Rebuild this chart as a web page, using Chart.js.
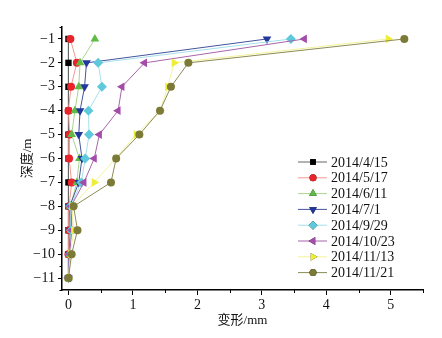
<!DOCTYPE html>
<html>
<head>
<meta charset="utf-8">
<script src="https://cdn.jsdelivr.net/npm/chart.js@4"></script>
<style>
  html, body { margin: 0; padding: 0; background: #fff; }
  #wrap { width: 442px; height: 338px; }
</style>
</head>
<body>
<div id="wrap"><canvas id="c" width="442" height="338"></canvas></div>
<script>
// depth of each reading, m
var depths = [-1, -2, -3, -4, -5, -6, -7, -8, -9, -10, -11];

// deformation (mm) at each depth, one array per survey date
var d0415 = [0, 0, 0, 0, 0, 0, 0, 0, 0, 0, 0];
var d0517 = [0.03, 0.13, 0.04, 0.0, 0.02, 0.01, 0.05, 0.01, 0.01, 0.0, 0.0];
var d0611 = [0.41, 0.18, 0.16, 0.10, 0.05, 0.17, 0.13, 0.03, 0.04, 0.02, 0.0];
var d0701 = [3.08, 0.28, 0.25, 0.18, 0.16, 0.21, 0.16, 0.02, 0.03, 0.01, 0.0];
var d0929 = [3.45, 0.46, 0.52, 0.31, 0.32, 0.26, 0.20, 0.03, 0.04, 0.02, 0.0];
var d1023 = [3.66, 1.18, 0.83, 0.77, 0.48, 0.40, 0.24, 0.04, 0.05, 0.02, 0.0];
var d1113 = [4.96, 1.64, 1.54, 1.42, 1.05, 0.73, 0.40, 0.05, 0.08, 0.03, 0.0];
var d1121 = [5.21, 1.86, 1.59, 1.42, 1.10, 0.74, 0.66, 0.08, 0.14, 0.05, 0.0];

var labels = ['2014/4/15', '2014/5/17', '2014/6/11', '2014/7/1',
              '2014/9/29', '2014/10/23', '2014/11/13', '2014/11/21'];
var series = [d0415, d0517, d0611, d0701, d0929, d1023, d1113, d1121];

// tick labels
var xMajor = [0, 1, 2, 3, 4, 5];
var xMinor = [0.5, 1.5, 2.5, 3.5, 4.5, 5.5];
var yMajor = [-11, -10, -9, -8, -7, -6, -5, -4, -3, -2, -1];
var yMinor = [-11.5, -10.5, -9.5, -8.5, -7.5, -6.5, -5.5, -4.5, -3.5, -2.5, -1.5, -0.5];

var markerColors = ['#000000', '#e8232b', '#5fbb45', '#22389a', '#5ec9da', '#a34ca8', '#eeee3a', '#7b7a36'];
var lineColors = ['#666666', '#f29b8e', '#a9d58f', '#45549c', '#a6e0ea', '#a765ab', '#f3f39a', '#8c8b55'];
var styles = ['rect', 'circle', 'triangle', 'triangle', 'rectRot', 'triangle', 'triangle', 'circle'];
var rotations = [0, 0, 0, 180, 0, -90, 90, 0];
var radii = [4.5, 4, 5, 5, 5, 5, 5, 4];

var serif = "'Liberation Serif', 'Times New Roman', serif";
var cjk = "'Liberation Serif', 'Noto Sans CJK SC', serif";

function minus(v) {
	return v < 0 ? '\u2212' + Math.abs(v) : '' + v;
}

var datasets = series.map(function(vals, i) {
	return {
		label: labels[i],
		data: vals.map(function(v, k) { return {x: v, y: depths[k]}; }),
		showLine: true,
		borderColor: lineColors[i],
		borderWidth: 1,
		backgroundColor: markerColors[i],
		pointBackgroundColor: markerColors[i],
		pointBorderColor: markerColors[i],
		pointBorderWidth: 0,
		pointStyle: styles[i],
		rotation: rotations[i],
		pointRadius: radii[i],
		order: series.length - i
	};
});

// short minor ticks plus a legend drawn inside the plot
var extras = {
	id: 'extras',
	afterDraw: function(chart) {
		var ctx = chart.ctx;
		var xs = chart.scales.x, ys = chart.scales.y;
		ctx.save();
		ctx.strokeStyle = '#000';
		ctx.lineWidth = 1;
		ctx.beginPath();
		xMinor.forEach(function(v) {
			var px = Math.round(xs.getPixelForValue(v)) + 0.5;
			ctx.moveTo(px, ys.bottom);
			ctx.lineTo(px, ys.bottom + 3);
		});
		yMinor.forEach(function(v) {
			var py = Math.round(ys.getPixelForValue(v)) + 0.5;
			ctx.moveTo(xs.left, py);
			ctx.lineTo(xs.left - 2.5, py);
		});
		ctx.stroke();

		ctx.font = '14px ' + serif;
		ctx.textBaseline = 'middle';
		ctx.fillStyle = '#111';
		chart.data.datasets.forEach(function(ds, i) {
			var y = 162 + i * 15.8;
			ctx.strokeStyle = lineColors[i];
			ctx.beginPath();
			ctx.moveTo(298, y);
			ctx.lineTo(327, y);
			ctx.stroke();
			Chart.helpers.drawPoint(ctx, {
				pointStyle: styles[i],
				rotation: rotations[i],
				radius: radii[i] - 0.5,
				borderWidth: 0
			}, 313, y);
			ctx.fillStyle = markerColors[i];
			ctx.fill();
			ctx.fillStyle = '#111';
			ctx.fillText(ds.label, 331, y + 1);
		});
		ctx.restore();
	}
};

new Chart(document.getElementById('c'), {
	type: 'scatter',
	data: { datasets: datasets },
	plugins: [extras],
	options: {
		responsive: false,
		animation: false,
		layout: { padding: { left: 0, right: 19, top: 27, bottom: 0 } },
		plugins: {
			legend: { display: false },
			tooltip: { enabled: false }
		},
		scales: {
			x: {
				type: 'linear',
				min: -0.1,
				max: 5.5,
				afterBuildTicks: function(s) { s.ticks = xMajor.map(function(v) { return {value: v}; }); },
				afterFit: function(s) { s.height = 48; },
				border: { color: '#000', width: 1.5 },
				grid: { drawOnChartArea: false, drawTicks: true, tickLength: 5, tickColor: '#000', tickWidth: 1 },
				ticks: { color: '#111', font: { family: serif, size: 14 }, padding: 2, callback: function(v) { return minus(v); } },
				title: { display: true, text: '变形/mm', color: '#111', font: { family: cjk, size: 13 }, padding: { top: 0, bottom: 10 } }
			},
			y: {
				type: 'linear',
				min: -11.5,
				max: -0.5,
				afterBuildTicks: function(s) { s.ticks = yMajor.map(function(v) { return {value: v}; }); },
				afterFit: function(s) { s.width = 62; },
				border: { color: '#000', width: 1.5 },
				grid: { drawOnChartArea: false, drawTicks: true, tickLength: 4, tickColor: '#000', tickWidth: 1 },
				ticks: { color: '#111', font: { family: serif, size: 14 }, padding: 3, callback: function(v) { return minus(v); } },
				title: { display: true, text: '深度/m', color: '#111', font: { family: cjk, size: 13 }, padding: { top: 20, bottom: 0 } }
			}
		}
	}
});
</script>
</body>
</html>
